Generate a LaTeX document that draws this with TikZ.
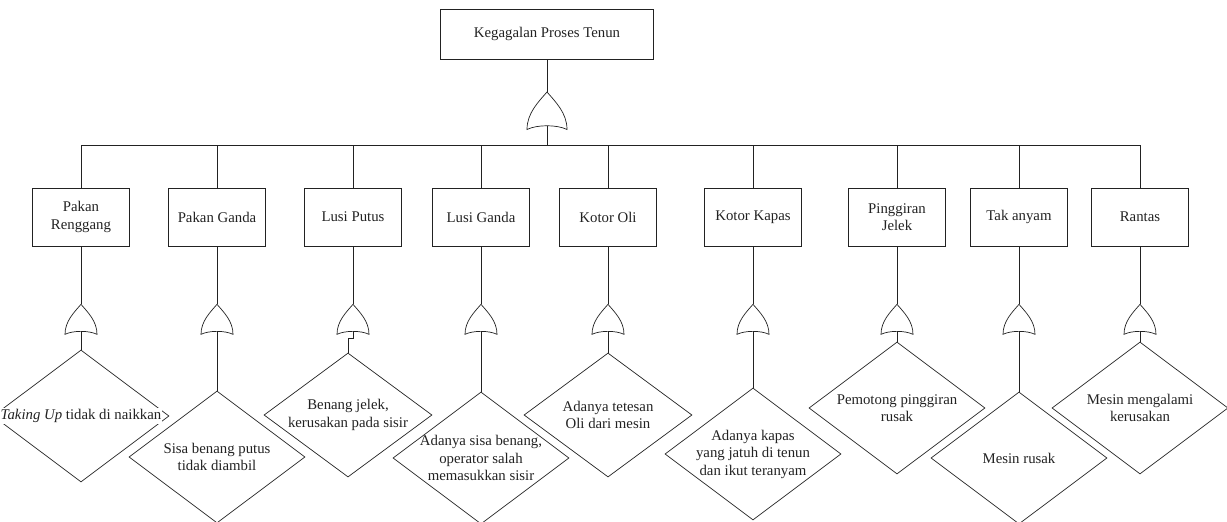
\documentclass[tikz,border=0pt]{standalone}
\usepackage{fontspec}
\setmainfont{Liberation Serif}
\usepackage{xcolor}
\definecolor{ink}{HTML}{222222}
\usepackage{tikz}
\usetikzlibrary{shapes.geometric, positioning, calc}

\tikzset{
  orgate/.pic={
    \draw (0,0) .. controls (-7,8) and (-16,17) .. (-16,30)
      .. controls (-8,26) and (8,26) .. (16,30)
      .. controls (16,17) and (7,8) .. (0,0) -- cycle;
    \coordinate (-top) at (0,0);
    \coordinate (-bot) at (0,27);
  }
}

\begin{document}
\begin{tikzpicture}[
  x=1pt, y=-1pt,
  line width=0.7pt, color=ink,
  font=\rmfamily\fontsize{14.8}{17.5}\selectfont,
  event/.style={draw=ink, rectangle, minimum width=97pt, minimum height=58pt,
    align=center, inner sep=2pt},
  cause/.style={draw=ink, diamond, minimum width=176pt, minimum height=132pt,
    inner sep=0pt},
  causetext/.style={align=center, inner sep=0pt}
]
  \clip (0,0) rectangle (1227,522);

  % Top event
  \node[event, minimum width=213pt, minimum height=50pt] (top) at (547,34) {Kegagalan Proses Tenun};
  \pic[scale=1.25] (tg) at (547,92) {orgate};
  \coordinate (bus) at (547,145);
  \draw (top.south) -- (tg-top);
  \draw (tg-bot) -- (bus);

  % Failure modes
  \node[event] (b1) at (81,217) {Pakan\\Renggang};
  \node[event] (b2) at (217,217) {Pakan Ganda};
  \node[event] (b3) at (353,217) {Lusi Putus};
  \node[event] (b4) at (481,217) {Lusi Ganda};
  \node[event] (b5) at (608,217) {Kotor Oli};
  \node[event] (b6) at (753,217) {Kotor Kapas};
  \node[event] (b7) at (897,217) {Pinggiran\\Jelek};
  \node[event] (b8) at (1019,217) {Tak anyam};
  \node[event] (b9) at (1140,217) {Rantas};

  % OR gates
  \foreach \i in {1,...,9}
    \pic (g\i) at ($(b\i.south)+(0,58)$) {orgate};

  % Basic causes
  \node[cause] (d1) at (81,416) {};
  \node[cause] (d2) at (217,457) {};
  \node[cause, minimum width=168pt, minimum height=124pt] (d3) at (348,415) {};
  \node[cause] (d4) at (481,458) {};
  \node[cause, minimum width=168pt, minimum height=124pt] (d5) at (608,415) {};
  \node[cause] (d6) at (753,454) {};
  \node[cause] (d7) at (897,408) {};
  \node[cause] (d8) at (1019,458) {};
  \node[cause] (d9) at (1140,408) {};

  \node[causetext, fill=white, inner sep=1pt] (t1) at (d1) {\textit{Taking Up} tidak di naikkan};
  \node[causetext] (t2) at (d2) {Sisa benang putus\\tidak diambil};
  \node[causetext] (t3) at (d3) {Benang jelek,\\kerusakan pada sisir};
  \node[causetext] (t4) at (d4) {Adanya sisa benang,\\operator salah\\memasukkan sisir};
  \node[causetext] (t5) at (d5) {Adanya tetesan\\Oli dari mesin};
  \node[causetext] (t6) at (d6) {Adanya kapas\\yang jatuh di tenun\\dan ikut teranyam};
  \node[causetext] (t7) at (d7) {Pemotong pinggiran\\rusak};
  \node[causetext] (t8) at (d8) {Mesin rusak};
  \node[causetext] (t9) at (d9) {Mesin mengalami\\kerusakan};

  % Connectors
  \foreach \i in {1,...,9} {
    \draw (bus) -| (b\i.north);
    \draw (b\i.south) -- (g\i-top);
  }
  \foreach \i in {1,2,4,5,6,7,8,9}
    \draw (g\i-bot) -- (d\i.north);
  \draw (g3-bot) -- ++(0,7) -| (d3.north);

\end{tikzpicture}
\end{document}
